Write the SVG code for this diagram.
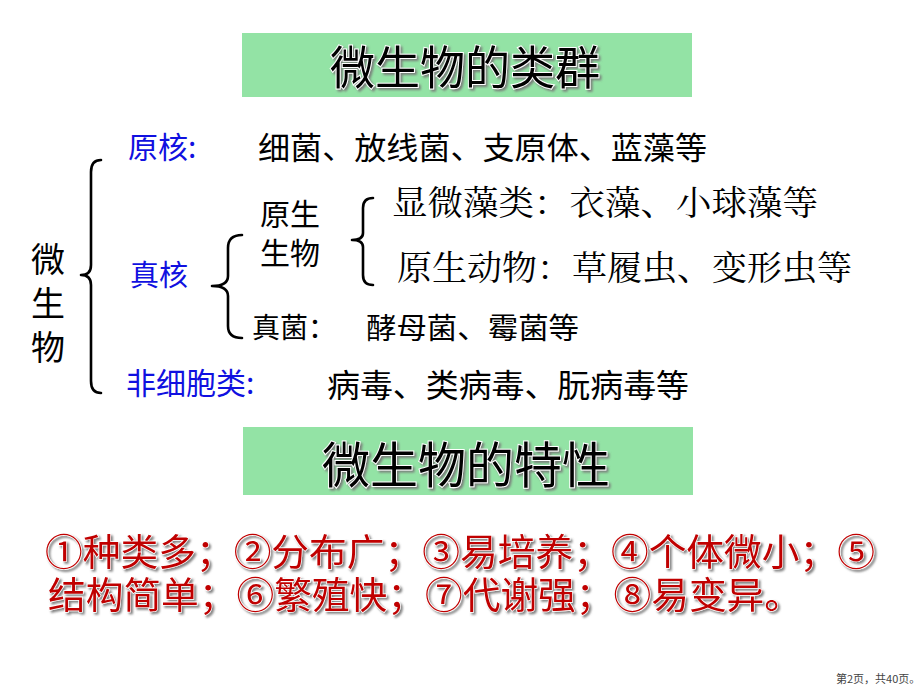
<svg xmlns="http://www.w3.org/2000/svg" width="920" height="690" viewBox="0 0 920 690">
<defs>
<filter id="sh" x="-10%" y="-20%" width="130%" height="150%">
<feDropShadow dx="2" dy="2" stdDeviation="0.8" flood-color="#777" flood-opacity="0.9"/>
</filter>
</defs>
<style>
text{font-family:"Noto Sans CJK SC","Noto Sans",sans-serif;}
.blk{fill:#000;}
.blue{fill:#1010e0;}
.ser{fill:#000;font-family:"Noto Serif CJK SC","Noto Sans CJK SC",serif;}
.title{fill:#000;stroke:#fff;stroke-width:2;paint-order:stroke;filter:url(#sh);}
.red{fill:#c00000;stroke:#fff;stroke-width:1.4;paint-order:stroke;filter:url(#sh);}
.box{fill:#93e3a5;}
.brace{fill:none;stroke:#000;stroke-width:2.6;stroke-linecap:round;stroke-linejoin:round;}
</style>
<rect width="920" height="690" fill="#fff"/>

<g id="title1">
<rect class="box" x="242" y="33" width="450" height="64"/>
<text class="title" x="330" y="84" font-size="46" textLength="270" lengthAdjust="spacingAndGlyphs">微生物的类群</text>
</g>

<g id="root">
<text class="blk" x="48" y="242" font-size="34" writing-mode="vertical-rl" letter-spacing="10">微生物</text>
</g>

<g id="prokaryote">
<text class="blue" x="128" y="158" font-size="30">原核:</text>
<text class="blk" x="258" y="159" font-size="31" textLength="449" lengthAdjust="spacingAndGlyphs">细菌、放线菌、支原体、蓝藻等</text>
</g>

<g id="eukaryote">
<text class="blue" x="130" y="286" font-size="29">真核</text>
</g>

<g id="protist">
<text class="blk" x="260" y="225" font-size="30">原生<tspan x="260" y="264">生物</tspan></text>
</g>

<g id="algae">
<text class="ser" x="392" y="215" font-size="34" textLength="426" lengthAdjust="spacingAndGlyphs">显微藻类：衣藻、小球藻等</text>
</g>

<g id="protozoa">
<text class="ser" x="397" y="280" font-size="34" textLength="455" lengthAdjust="spacingAndGlyphs">原生动物：草履虫、变形虫等</text>
</g>

<g id="fungi">
<text class="blk" x="252" y="338" font-size="28">真菌：</text>
<text class="blk" x="366" y="339" font-size="29" textLength="213" lengthAdjust="spacingAndGlyphs">酵母菌、霉菌等</text>
</g>

<g id="acellular">
<text class="blue" x="126" y="394" font-size="30">非细胞类:</text>
<text class="blk" x="327" y="397" font-size="32" textLength="362" lengthAdjust="spacingAndGlyphs">病毒、类病毒、朊病毒等</text>
</g>

<g id="connectors">
<path class="brace" d="M101,160 Q91,160 91,172 L91,265 Q91,275 81,275 Q91,275 91,285 L91,381 Q91,393 101,393"/>
<path class="brace" d="M242,235 Q228,235 228,248 L228,276 Q228,286 212,286 Q228,286 228,296 L228,326 Q228,338 242,338"/>
<path class="brace" d="M373,198 Q363,198 363,208 L363,233 Q363,240 352,240 Q363,240 363,247 L363,275 Q363,285 373,285"/>
</g>

<g id="title2">
<rect class="box" x="243" y="427" width="450" height="68"/>
<text class="title" x="322" y="483" font-size="49" textLength="288" lengthAdjust="spacingAndGlyphs">微生物的特性</text>
</g>

<g id="traits">
<text class="red" font-size="37"><tspan x="45" y="566" textLength="830" lengthAdjust="spacingAndGlyphs">①种类多；②分布广；③易培养；④个体微小；⑤</tspan><tspan x="48" y="609" textLength="754" lengthAdjust="spacingAndGlyphs">结构简单；⑥繁殖快；⑦代谢强；⑧易变异。</tspan></text>
</g>

<g id="footer">
<text x="836" y="683" font-size="11" fill="#444">第2页，共40页。</text>
</g>
</svg>
